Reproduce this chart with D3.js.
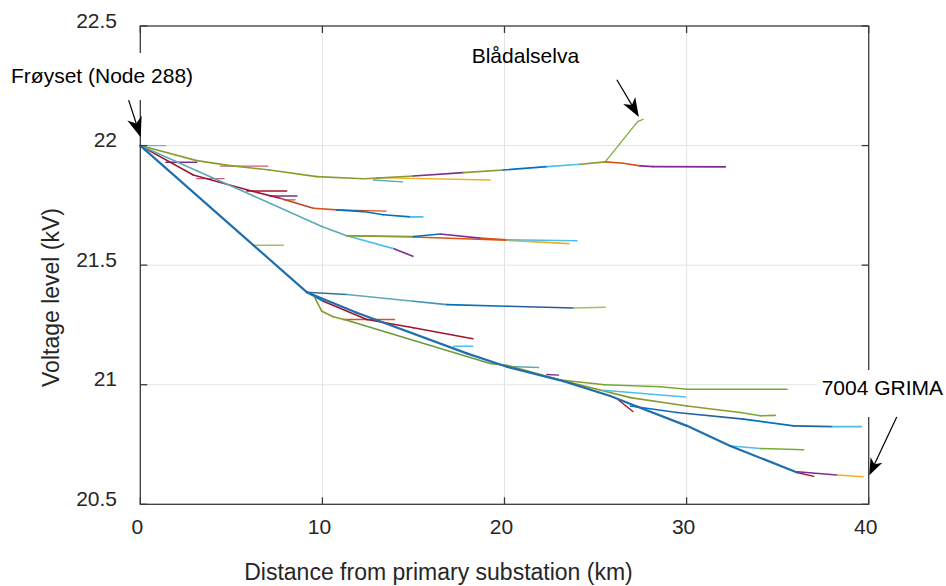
<!DOCTYPE html>
<html>
<head>
<meta charset="utf-8">
<script src="https://cdn.jsdelivr.net/npm/d3@7"></script>
<style>
  html, body { margin: 0; padding: 0; background: #fff; }
  svg { display: block; font-family: "Liberation Sans", Arial, Helvetica, sans-serif; }
</style>
</head>
<body>
<svg id="chart" width="946" height="586"></svg>
<script>
// ---------- data (distance km, voltage kV) ----------
const xTicks = [0, 10, 20, 30, 40];
const yTicks = [20.5, 21, 21.5, 22, 22.5];
const yTickLabels = ["20.5", "21", "21.5", "22", "22.5"];

const trunk = [[0,22],[9.14,21.387],[11.89,21.301],[17.93,21.131],[20.13,21.075],[23.24,21.015],[25.81,20.953],[27.27,20.909],[30.02,20.828],[32.4,20.744],[36.07,20.633]];
const branchA = [[0,22],[3.1,21.937],[4.93,21.916],[7.1,21.898],[9.69,21.870],[12.25,21.861],[13.0,21.864],[15.0,21.873],[17.73,21.887],[19.93,21.898],[22.33,21.912],[24.16,21.922],[25.53,21.932],[26.52,21.926],[27.45,21.915],[28.17,21.912],[32.13,21.911]];
const bladalselva = [[25.53,21.932],[27.31,22.10],[27.62,22.11]];
const branchB = [[0,22],[2.91,21.877],[5.85,21.815],[7.68,21.780],[9.5,21.738],[10.79,21.731],[12.25,21.724],[13.35,21.711],[14.82,21.702],[15.52,21.702]];
const branchC = [[0,22],[3.1,21.895],[6.2,21.79],[9.97,21.662],[11.34,21.623],[13.96,21.568],[14.97,21.537]];
const branchD = [[11.34,21.623],[15.0,21.620],[16.47,21.630],[18.66,21.613],[20.13,21.606],[23.98,21.602]];
const branchD2 = [[11.34,21.623],[15.0,21.618],[20.13,21.604],[23.54,21.590]];
const branchE = [[6.2,21.583],[7.86,21.583]];
const branchF = [[9.14,21.387],[11.34,21.377],[15.0,21.349],[16.84,21.335],[20.13,21.328],[23.79,21.321],[25.53,21.324]];
const branchG = [[9.14,21.387],[9.5,21.377],[9.97,21.307],[10.6,21.284],[11.34,21.270],[19.21,21.089],[20.13,21.081],[23.07,21.020],[26.91,20.946],[30.02,20.911],[32.95,20.884],[34.05,20.870],[34.87,20.872]];
const branchH = [[9.14,21.387],[10.05,21.349],[12.44,21.273],[15.0,21.238],[18.26,21.192]];
const branchJ = [[23.07,21.020],[25.5,21.0],[28.56,20.992],[30.02,20.981],[35.52,20.981]];
const branchK = [[25.44,20.977],[29.93,20.949]];
const branchL = [[26.91,20.911],[29.47,20.884],[33.13,20.856],[35.88,20.828],[38.0,20.825],[39.6,20.825]];
const branchM = [[32.4,20.744],[34.05,20.733],[36.43,20.728]];
const branchN = [[36.07,20.636],[38.26,20.623],[39.69,20.615]];
const stubs = [
  [[0,22],[1.4,22]],
  [[1.4,21.93],[3.1,21.93]],
  [[4.4,21.914],[7.0,21.914]],
  [[12.8,21.856],[14.4,21.848]],
  [[13.0,21.866],[19.2,21.856]],
  [[3.1,21.862],[4.6,21.862]],
  [[5.85,21.81],[8.04,21.81]],
  [[7.1,21.789],[8.6,21.789]],
  [[7.9,21.773],[8.5,21.773]],
  [[10.79,21.731],[13.5,21.726]],
  [[11.15,21.273],[13.96,21.273]],
  [[17.2,21.161],[18.26,21.161]],
  [[20.3,21.076],[21.87,21.072]],
  [[22.33,21.043],[22.97,21.040]],
  [[26.26,20.936],[27.05,20.888]],
  [[36.07,20.633],[36.98,20.617]]
];

// ---------- styles ----------
const C = {blue:"#0072BD", orange:"#D95319", yellow:"#EDB120", purple:"#7E2F8E",
           green:"#77AC30", lblue:"#4DBEEE", red:"#A2142F", olive:"#8C9A2E", teal:"#5AAAB8"};
const series = [
  {d: branchA, w: 1.6, c: [C.olive, C.olive, C.olive, C.olive, C.olive, "#a29a3a", C.olive, C.purple, C.olive, C.blue, C.lblue, C.olive, C.orange, C.orange, C.purple, C.purple]},
  {d: bladalselva, w: 1.2, c: [C.green]},
  {d: branchB, w: 1.6, c: [C.red, C.red, C.red, "#b4452a", C.orange, C.blue, C.blue, C.blue, C.lblue]},
  {d: branchC, w: 1.6, c: [C.teal, C.teal, C.teal, C.teal, C.lblue, C.purple]},
  {d: branchD2, w: 1.6, c: [C.olive, C.orange, C.yellow]},
  {d: branchD, w: 1.6, c: [C.olive, C.blue, C.purple, C.orange, C.lblue]},
  {d: branchE, w: 1.4, c: ["#9cc65a"]},
  {d: branchF, w: 1.6, c: ["#3a6fa0", C.teal, "#4a8fb8", C.blue, "#2a5f95", "#9cc65a"]},
  {d: branchH, w: 1.6, c: [C.blue, C.red, C.red, C.red]},
  {d: branchG, w: 1.6, c: ["#8a9a2a", "#8a9a2a", "#8a9a2a", "#8a9a2a", "#6a9a3a", "#6a9a3a", "#7c9a30", "#8a9a2a", C.olive, C.olive, C.green, C.green]},
  {d: branchJ, w: 1.5, c: [C.olive, C.green, C.green, C.green]},
  {d: branchK, w: 1.5, c: [C.lblue]},
  {d: branchL, w: 1.6, c: [C.blue, "#2563a0", C.blue, "#2563a0", C.lblue]},
  {d: branchM, w: 1.5, c: [C.lblue, C.green]},
  {d: branchN, w: 1.5, c: [C.purple, C.yellow]},
  {d: trunk, w: 2.2, c: ["#1f6fad"]}
];
const stubColors = [C.lblue, C.purple, "#c8607a", C.teal, C.yellow, "#c8607a", C.red, C.purple, C.orange, C.orange, C.orange, C.lblue, C.teal, C.purple, C.red, C.red];

// ---------- layout ----------
const svg = d3.select("#chart");
const x = d3.scaleLinear().domain([0, 40]).range([140.3, 868.7]);
const y = d3.scaleLinear().domain([20.5, 22.5]).range([504.3, 26]);
const [x0, x1] = x.range();
const [y0, y1] = y.range();

// grid
const grid = svg.append("g").attr("stroke", "#e3e3e3").attr("stroke-width", 1);
grid.selectAll(".gx").data(xTicks.slice(1, -1)).join("line")
  .attr("x1", d => x(d)).attr("x2", d => x(d)).attr("y1", y1).attr("y2", y0);
grid.selectAll(".gy").data(yTicks.slice(1, -1)).join("line")
  .attr("y1", d => y(d)).attr("y2", d => y(d)).attr("x1", x0).attr("x2", x1);

// data lines as colored segments
const lines = svg.append("g").attr("fill", "none").attr("stroke-linecap", "round");
function drawPath(pts, colors, w) {
  for (let i = 0; i < pts.length - 1; i++) {
    lines.append("line")
      .attr("x1", x(pts[i][0])).attr("y1", y(pts[i][1]))
      .attr("x2", x(pts[i+1][0])).attr("y2", y(pts[i+1][1]))
      .attr("stroke", colors[i % colors.length]).attr("stroke-width", w);
  }
}
stubs.forEach((s, i) => drawPath(s, [stubColors[i % stubColors.length]], 1.4));
series.forEach(s => drawPath(s.d, s.c, s.w));

// axes box
const ax = svg.append("g").attr("stroke", "#3a3a3a").attr("stroke-width", 1.3).attr("fill", "none");
ax.append("rect").attr("x", x0).attr("y", y1).attr("width", x1 - x0).attr("height", y0 - y1);
const tk = 7;
xTicks.forEach(t => {
  ax.append("line").attr("x1", x(t)).attr("x2", x(t)).attr("y1", y0).attr("y2", y0 - tk);
  ax.append("line").attr("x1", x(t)).attr("x2", x(t)).attr("y1", y1).attr("y2", y1 + tk);
});
yTicks.forEach(t => {
  ax.append("line").attr("y1", y(t)).attr("y2", y(t)).attr("x1", x0).attr("x2", x0 + tk);
  ax.append("line").attr("y1", y(t)).attr("y2", y(t)).attr("x1", x1).attr("x2", x1 - tk);
});

// tick labels
const tl = svg.append("g").attr("fill", "#262626").attr("font-size", 21);
tl.selectAll(".xl").data(xTicks).join("text")
  .attr("x", d => x(d) - 3).attr("y", 533.5).attr("text-anchor", "middle").text(d => d);
tl.selectAll(".yl").data(yTicks).join("text")
  .attr("x", 117).attr("y", d => y(d) + 1.5).attr("text-anchor", "end")
  .text((d, i) => yTickLabels[i]);

// axis titles
svg.append("text").attr("x", 438.5).attr("y", 580).attr("text-anchor", "middle")
  .attr("font-size", 23).attr("fill", "#262626").text("Distance from primary substation (km)");
svg.append("text").attr("transform", "translate(58.5,297.5) rotate(-90)").attr("text-anchor", "middle")
  .attr("font-size", 23).attr("fill", "#262626").text("Voltage level (kV)");

// annotations
function arrow(tail, tip, len, half) {
  const p0 = [x(tail[0]), y(tail[1])], p1 = [x(tip[0]), y(tip[1])];
  const dx = p1[0] - p0[0], dy = p1[1] - p0[1], L = Math.hypot(dx, dy);
  const ux = dx / L, uy = dy / L, nx = -uy, ny = ux;
  const bx = p1[0] - ux * len, by = p1[1] - uy * len;
  const nb = [p1[0] - ux * len * 0.72, p1[1] - uy * len * 0.72];
  svg.append("line").attr("x1", p0[0]).attr("y1", p0[1]).attr("x2", nb[0]).attr("y2", nb[1])
    .attr("stroke", "#000").attr("stroke-width", 1.2);
  svg.append("path")
    .attr("d", `M${p1[0]},${p1[1]} L${bx + nx * half},${by + ny * half} L${nb[0]},${nb[1]} L${bx - nx * half},${by - ny * half} Z`)
    .attr("fill", "#000");
}
svg.append("rect").attr("x", 5).attr("y", 53).attr("width", 193).attr("height", 47).attr("fill", "#fff");
svg.append("rect").attr("x", 817).attr("y", 370).attr("width", 129).attr("height", 47).attr("fill", "#fff");
const ann = svg.append("g").attr("font-size", 21).attr("fill", "#000");
ann.append("text").attr("x", 11).attr("y", 82.7).text("Frøyset (Node 288)");
ann.append("text").attr("x", 471.7).attr("y", 62.7).text("Blådalselva");
ann.append("text").attr("x", 821.7).attr("y", 395).text("7004 GRIMA");
arrow([-0.64, 22.19], [0.02, 22.035], 20, 7.5);
arrow([26.17, 22.275], [27.38, 22.12], 19, 7);
arrow([41.54, 20.865], [40.03, 20.621], 17, 6.5);
</script>
</body>
</html>
